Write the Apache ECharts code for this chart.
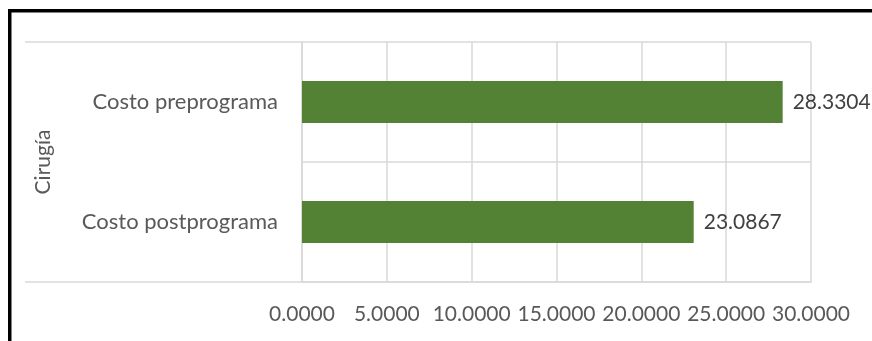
<!DOCTYPE html>
<html>
<head>
<meta charset="utf-8">
<script src="https://cdn.jsdelivr.net/npm/echarts@6/dist/echarts.min.js"></script>
<style>
  html, body { margin: 0; padding: 0; background: #fff; }
  #chart { width: 872px; height: 341px; }
</style>
</head>
<body>
<div id="chart"></div>
<script>
// Costs before and after the programme, surgery group
const categories = ['Costo postprograma', 'Costo preprograma'];
const costValues = [23.0867, 28.3304];
const groupName = 'Cirugía';
const axisMin = 0;
const axisMax = 30;
const axisStep = 5;

const FONT = 'Lato';
const FONT_SIZE = 21;
const GRID_COLOR = '#d9d9d9';
const TEXT_COLOR = '#595959';

const chart = echarts.init(document.getElementById('chart'));

chart.setOption({
  animation: false,
  textStyle: { fontFamily: FONT },
  grid: { left: 302, right: 61, top: 42, bottom: 59, containLabel: false },
  xAxis: {
    type: 'value',
    min: axisMin,
    max: axisMax,
    interval: axisStep,
    axisLine: { show: true, lineStyle: { color: GRID_COLOR, width: 1.5 } },
    axisTick: { show: false },
    splitLine: { show: true, lineStyle: { color: GRID_COLOR, width: 1.5 } },
    axisLabel: {
      color: TEXT_COLOR,
      fontSize: FONT_SIZE,
      fontFamily: FONT,
      margin: 22,
      formatter: v => v.toFixed(4)
    }
  },
  yAxis: {
    type: 'category',
    data: categories,
    axisLine: { show: true, lineStyle: { color: GRID_COLOR, width: 1.5 } },
    axisTick: { show: false },
    splitLine: { show: true, lineStyle: { color: GRID_COLOR, width: 1.5 } },
    axisLabel: { color: TEXT_COLOR, fontSize: 22, fontFamily: FONT, margin: 24 },
    name: groupName,
    nameLocation: 'middle',
    nameRotate: 90,
    nameGap: 248,
    nameTextStyle: { color: TEXT_COLOR, fontSize: FONT_SIZE, fontFamily: FONT }
  },
  series: [{
    type: 'bar',
    data: costValues,
    barWidth: 42,
    itemStyle: { color: '#548235' },
    label: {
      show: true,
      position: 'right',
      distance: 10,
      color: '#404040',
      fontSize: FONT_SIZE,
      fontFamily: FONT,
      formatter: p => p.value.toFixed(4)
    }
  }],
  graphic: [
    // outer category rules extending across the label column
    { type: 'line', shape: { x1: 25, y1: 42, x2: 302, y2: 42 }, style: { stroke: GRID_COLOR, lineWidth: 1.5 }, silent: true },
    { type: 'line', shape: { x1: 25, y1: 282, x2: 302, y2: 282 }, style: { stroke: GRID_COLOR, lineWidth: 1.5 }, silent: true },
    // frame edges
    { type: 'rect', shape: { x: 8, y: 9, width: 3.5, height: 332 }, style: { fill: '#000' }, silent: true },
    { type: 'rect', shape: { x: 8, y: 9, width: 864, height: 3.5 }, style: { fill: '#000' }, silent: true }
  ]
});
</script>
</body>
</html>
